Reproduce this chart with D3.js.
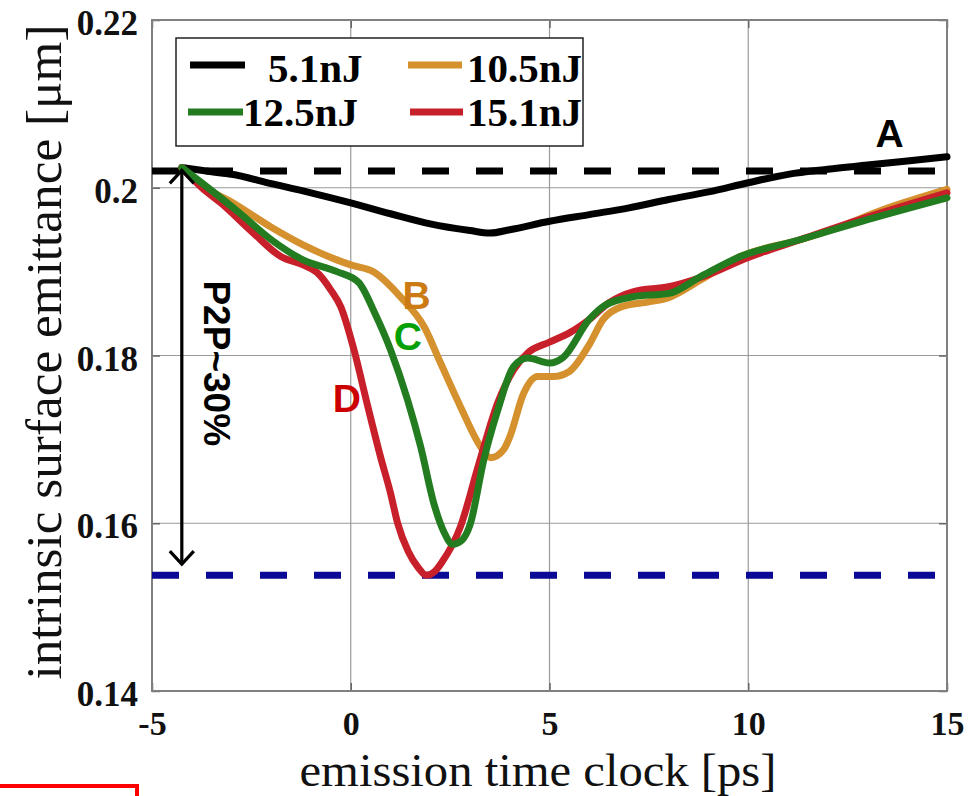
<!DOCTYPE html>
<html>
<head>
<meta charset="utf-8">
<script src="https://cdn.jsdelivr.net/npm/d3@7"></script>
<style>
  html, body { margin: 0; padding: 0; background: #fff; }
  svg { display: block; }
</style>
</head>
<body>
<svg id="chart" width="977" height="796"></svg>
<script>
// ---------------- data ----------------
const seriesNames = ["5.1nJ", "10.5nJ", "12.5nJ", "15.1nJ"];
const seriesColors = ["#000000", "#D4912E", "#237D20", "#C8202A"];

const time51 = [-4.25, -3.5, -3, -2, -1, 0, 1, 2, 3, 3.5, 4, 5, 6, 7, 8, 9, 10, 11, 12, 13, 14, 15];
const emit51 = [0.2024, 0.2019, 0.2016, 0.2005, 0.1994, 0.1982, 0.1969, 0.1957, 0.1949, 0.1946, 0.1950, 0.1960, 0.1968, 0.1976, 0.1986, 0.1995, 0.2006, 0.2016, 0.2022, 0.2027, 0.2032, 0.2037];

const time105 = [-4.25, -3.7, -3, -2, -1.2, -0.35, 0, 0.6, 1.25, 1.85, 2.26, 2.76, 3.27, 3.52, 3.85, 4.0, 4.35, 4.7, 5.1, 5.5, 6.0, 6.35, 6.8, 7.5, 8.0, 8.8, 9.8, 11.3, 12.1, 13.4, 15];
const emit105 = [0.2024, 0.2001, 0.1983, 0.1953, 0.1932, 0.1914, 0.1908, 0.1899, 0.1870, 0.1834, 0.1791, 0.1739, 0.1691, 0.1678, 0.1688, 0.1703, 0.1755, 0.1775, 0.1775, 0.1781, 0.1813, 0.1843, 0.1858, 0.1864, 0.1869, 0.1890, 0.1918, 0.1938, 0.1950, 0.1974, 0.1998];

const time125 = [-4.25, -3.7, -2.8, -2, -1.2, -0.35, 0.2, 0.6, 1.0, 1.43, 1.76, 2.1, 2.35, 2.56, 2.8, 3.0, 3.35, 3.7, 4.1, 4.45, 5.0, 5.35, 6.0, 6.4, 7.1, 8.0, 8.8, 9.8, 11.3, 13.0, 15];
const emit125 = [0.2024, 0.2004, 0.1970, 0.1938, 0.1914, 0.1900, 0.1887, 0.1851, 0.1807, 0.1747, 0.1691, 0.1622, 0.1589, 0.1575, 0.1580, 0.1598, 0.1676, 0.1735, 0.1787, 0.1797, 0.1791, 0.1798, 0.1843, 0.1860, 0.1870, 0.1874, 0.1894, 0.1918, 0.1938, 0.1962, 0.1988];

const time151 = [-4.25, -3.7, -3.27, -2.45, -1.76, -1.2, -0.85, -0.5, -0.25, 0.08, 0.43, 0.75, 1.0, 1.18, 1.45, 1.7, 1.9, 2.1, 2.3, 2.76, 3.2, 3.7, 4.1, 4.45, 5.0, 5.5, 6.0, 6.5, 7.1, 8.0, 8.8, 10.0, 11.3, 13.0, 15];
const emit151 = [0.2024, 0.1998, 0.1982, 0.1946, 0.1918, 0.1908, 0.1899, 0.1878, 0.1858, 0.1807, 0.1739, 0.1679, 0.1636, 0.1600, 0.1566, 0.1547, 0.1538, 0.1542, 0.1554, 0.1596, 0.1667, 0.1744, 0.1783, 0.1803, 0.1816, 0.1827, 0.1843, 0.1863, 0.1876, 0.1882, 0.1893, 0.1917, 0.1938, 0.1965, 0.1994];

const refLevelTop = 0.2020;      // black dashed line
const refLevelBottom = 0.1538;   // blue dashed line
const arrowTime = -4.25;
const arrowTop = 0.2022;
const arrowBottom = 0.1550;

const xTicks = [-5, 0, 5, 10, 15];
const xTickLabels = ["-5", "0", "5", "10", "15"];
const yTicks = [0.14, 0.16, 0.18, 0.2, 0.22];
const yTickLabels = ["0.14", "0.16", "0.18", "0.2", "0.22"];

const curveLabels = [
  { text: "A", t: 13.2, v: 0.2048, color: "#000000" },
  { text: "B", t: 1.3, v: 0.1855, color: "#CC7A12" },
  { text: "C", t: 1.08, v: 0.1807, color: "#05A005" },
  { text: "D", t: -0.45, v: 0.1733, color: "#CC0000" }
];

// ---------------- layout ----------------
const svg = d3.select("#chart");
const L = 152, R = 947, T = 20, B = 691;
const x = d3.scaleLinear().domain([-5, 15]).range([L, R]);
const y = d3.scaleLinear().domain([0.14, 0.22]).range([B, T]);

const serif = "'Liberation Serif', 'Times New Roman', serif";
const sans = "'Liberation Sans', Arial, sans-serif";

// grid lines
const grid = svg.append("g");
grid.selectAll("line.gx").data(xTicks.slice(1, -1)).enter().append("line")
  .attr("x1", d => x(d)).attr("x2", d => x(d)).attr("y1", T).attr("y2", B)
  .attr("stroke", "#9a9a9a").attr("stroke-width", 1.2);
grid.selectAll("line.gy").data(yTicks.slice(1, -1)).enter().append("line")
  .attr("y1", d => y(d)).attr("y2", d => y(d)).attr("x1", L).attr("x2", R)
  .attr("stroke", "#9a9a9a").attr("stroke-width", 1.2);

// axes
const xAxis = svg.append("g").attr("transform", `translate(0,${B})`)
  .call(d3.axisBottom(x).tickValues(xTicks).tickFormat((d, i) => xTickLabels[i]).tickSize(-8));
const xAxisTop = svg.append("g").attr("transform", `translate(0,${T})`)
  .call(d3.axisTop(x).tickValues(xTicks).tickFormat("").tickSize(-8));
const yAxis = svg.append("g").attr("transform", `translate(${L},0)`)
  .call(d3.axisLeft(y).tickValues(yTicks).tickFormat((d, i) => yTickLabels[i]).tickSize(-8));
const yAxisRight = svg.append("g").attr("transform", `translate(${R},0)`)
  .call(d3.axisRight(y).tickValues(yTicks).tickFormat("").tickSize(-8));

[xAxis, xAxisTop, yAxis, yAxisRight].forEach(g => {
  g.select(".domain").remove();
  g.selectAll(".tick line").attr("stroke", "#666").attr("stroke-width", 1.5);
});
xAxis.selectAll("text")
  .attr("y", 44).attr("dy", null)
  .attr("font-family", serif).attr("font-weight", "bold").attr("font-size", 34).attr("fill", "#111");
yAxis.selectAll("text")
  .attr("x", -14).attr("dy", "0.42em")
  .attr("font-family", serif).attr("font-weight", "bold").attr("font-size", 35).attr("fill", "#111");

// frame
svg.append("rect").attr("x", L).attr("y", T).attr("width", R - L).attr("height", B - T)
  .attr("fill", "none").attr("stroke", "#808080").attr("stroke-width", 2);

// dashed reference lines
svg.append("line").attr("x1", x(-5)).attr("x2", x(15)).attr("y1", y(refLevelTop)).attr("y2", y(refLevelTop))
  .attr("stroke", "#000").attr("stroke-width", 7).attr("stroke-dasharray", "27,27");
svg.append("line").attr("x1", x(-5)).attr("x2", x(15)).attr("y1", y(refLevelBottom)).attr("y2", y(refLevelBottom))
  .attr("stroke", "#0A0A96").attr("stroke-width", 7).attr("stroke-dasharray", "27,27");

// curves
const allSeries = [
  { t: time51, v: emit51, color: seriesColors[0] },
  { t: time105, v: emit105, color: seriesColors[1] },
  { t: time151, v: emit151, color: seriesColors[3] },
  { t: time125, v: emit125, color: seriesColors[2] }
];
const line = d3.line().x(d => x(d[0])).y(d => y(d[1])).curve(d3.curveMonotoneX);
allSeries.forEach(s => {
  svg.append("path").datum(s.t.map((t, i) => [t, s.v[i]]))
    .attr("d", line).attr("fill", "none")
    .attr("stroke", s.color).attr("stroke-width", 7)
    .attr("stroke-linejoin", "round").attr("stroke-linecap", "round");
});

// double-headed arrow
const ax = x(arrowTime), ay1 = y(arrowTop), ay2 = y(arrowBottom);
const arrowG = svg.append("g").attr("stroke", "#000").attr("stroke-width", 3.2).attr("fill", "none");
arrowG.append("line").attr("x1", ax).attr("x2", ax).attr("y1", ay1 + 1).attr("y2", ay2 - 1);
arrowG.append("path").attr("d", `M${ax - 12},${ay1 + 14} L${ax},${ay1 + 1} L${ax + 12},${ay1 + 14}`);
arrowG.append("path").attr("d", `M${ax - 12},${ay2 - 14} L${ax},${ay2 - 1} L${ax + 12},${ay2 - 14}`);

svg.append("text")
  .attr("transform", `translate(${ax + 22},${(ay1 + ay2) / 2 - 4}) rotate(90)`)
  .attr("text-anchor", "middle")
  .attr("font-family", sans).attr("font-weight", "bold").attr("font-size", 37)
  .attr("fill", "#000").text("P2P~30%");

// curve labels
svg.selectAll("text.clabel").data(curveLabels).enter().append("text")
  .attr("class", "clabel")
  .attr("x", d => x(d.t)).attr("y", d => y(d.v))
  .attr("font-family", sans).attr("font-weight", "bold").attr("font-size", 39)
  .attr("fill", d => d.color).text(d => d.text);

// legend
const lg = svg.append("g");
lg.append("rect").attr("x", 176).attr("y", 38).attr("width", 407).attr("height", 108)
  .attr("fill", "#fff").attr("stroke", "#222").attr("stroke-width", 1.5);
const legendItems = [
  { name: seriesNames[0], color: seriesColors[0], lx1: 190, lx2: 245, tx: 268, ly: 65, ty: 82 },
  { name: seriesNames[1], color: seriesColors[1], lx1: 408, lx2: 462, tx: 467, ly: 65, ty: 82 },
  { name: seriesNames[2], color: seriesColors[2], lx1: 188, lx2: 243, tx: 243, ly: 112, ty: 126 },
  { name: seriesNames[3], color: seriesColors[3], lx1: 410, lx2: 463, tx: 467, ly: 112, ty: 126 }
];
legendItems.forEach(it => {
  lg.append("line").attr("x1", it.lx1).attr("x2", it.lx2).attr("y1", it.ly).attr("y2", it.ly)
    .attr("stroke", it.color).attr("stroke-width", 7);
  lg.append("text").attr("x", it.tx).attr("y", it.ty)
    .attr("font-family", serif).attr("font-weight", "bold").attr("font-size", 41)
    .attr("fill", "#000").text(it.name);
});

// axis titles
svg.append("text")
  .attr("x", 538).attr("y", 786).attr("text-anchor", "middle")
  .attr("font-family", serif).attr("font-size", 47).attr("fill", "#111")
  .attr("textLength", 477).attr("lengthAdjust", "spacingAndGlyphs")
  .text("emission time clock [ps]");
svg.append("text")
  .attr("transform", "translate(61,352) rotate(-90)")
  .attr("text-anchor", "middle")
  .attr("font-family", serif).attr("font-size", 51).attr("fill", "#111")
  .attr("textLength", 655).attr("lengthAdjust", "spacingAndGlyphs")
  .text("intrinsic surface emittance [μm]");

// red frame fragment at bottom-left
svg.append("path").attr("d", "M-5,786 L137,786 L137,800")
  .attr("fill", "none").attr("stroke", "#FF0000").attr("stroke-width", 4);
</script>
</body>
</html>
